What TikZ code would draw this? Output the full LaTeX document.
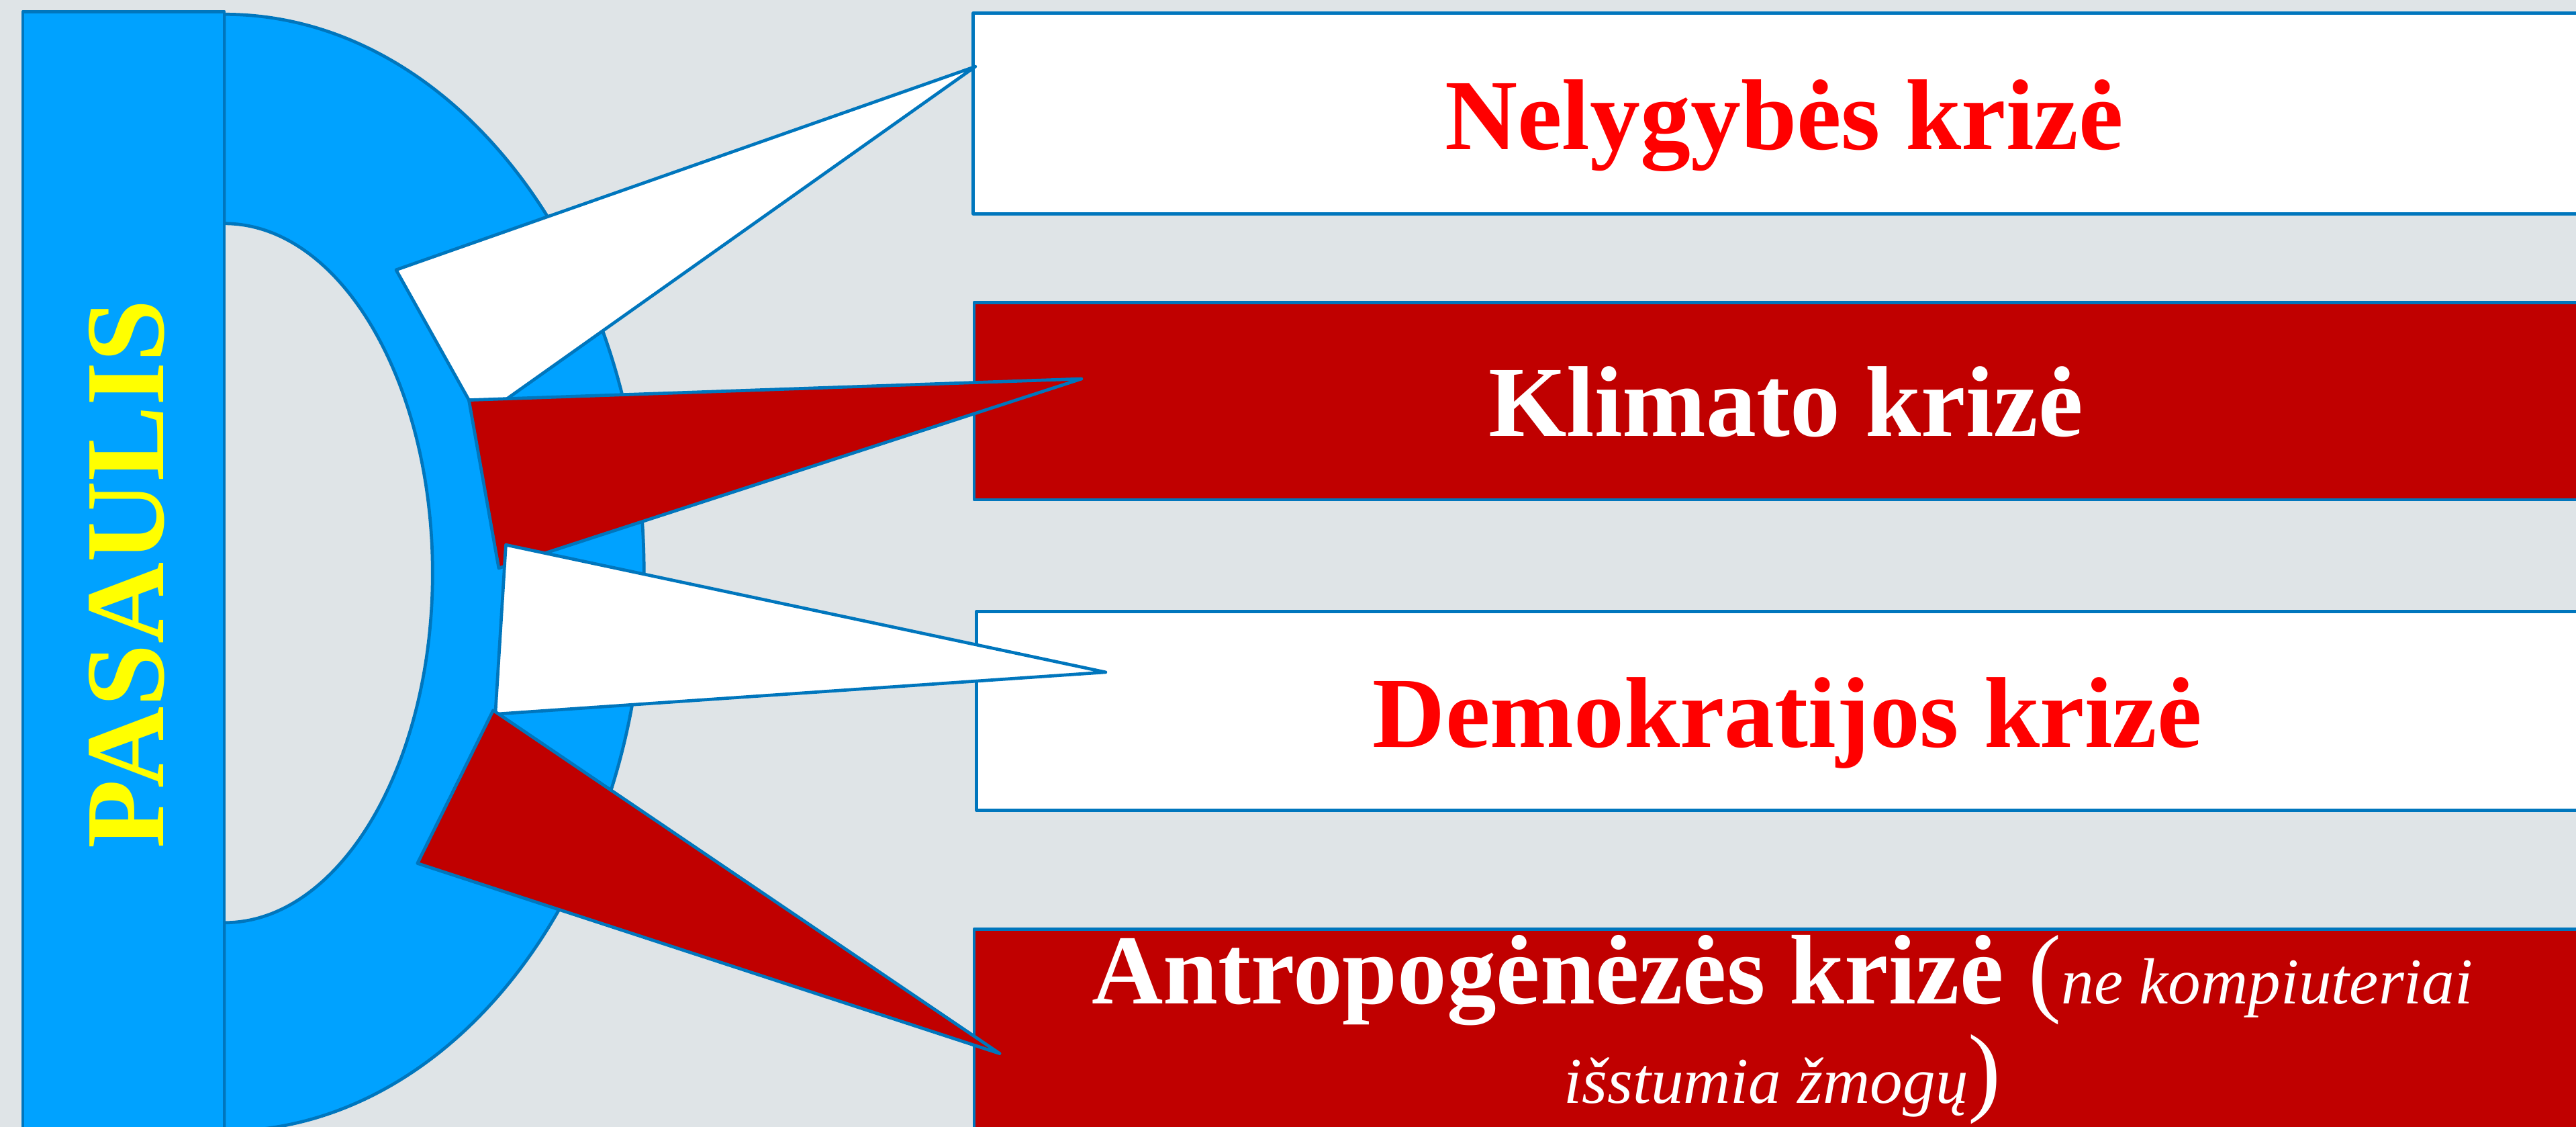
\documentclass[tikz,border=0pt]{standalone}
\usepackage{fontspec}
\setmainfont{Liberation Serif}
\definecolor{backgr}{RGB}{223,228,231}
\definecolor{skyblue}{RGB}{0,162,255}
\definecolor{edgeblue}{RGB}{0,118,189}
\definecolor{darkred}{RGB}{192,0,0}
\definecolor{brightred}{RGB}{255,0,0}
\definecolor{lemon}{RGB}{255,255,0}
\newcommand\remark{\fontsize{11.3}{17.3}\selectfont\mdseries\itshape}

\begin{document}
\begin{tikzpicture}[x=0.01cm,y=-0.01cm,line width=0.55pt,line join=round,
    panel/.style={draw=edgeblue,anchor=north west,minimum width=9.88cm,inner sep=0pt},
    tongue/.style={draw=edgeblue},
    head/.style={anchor=base,font=\fontsize{17.4}{17.3}\selectfont\bfseries}]
        \fill[backgr] (0,0) rectangle (1568,685.7);
        \useasboundingbox (0,0) rectangle (1568,685.7);
        \clip (0,0) rectangle (1568,685.7);
        \draw[edgeblue,fill=skyblue] (136.5,8.7) arc[start angle=-90,end angle=90,x radius=255.5,y radius=339.8]
            -- (136.5,561.4) arc[start angle=90,end angle=-90,x radius=126.8,y radius=212.7] -- cycle;
        \draw[edgeblue,fill=skyblue] (13.9,7.1) rectangle (136.5,720);
        \node[rotate=90,text=lemon,font=\fontsize{19.5}{20}\selectfont\bfseries] (world) at (77,349.3) {PASAULIS};
        \foreach \n/\x/\y/\h/\c in {1/591.5/7/1.22/white,2/592/183/1.20/darkred,3/593.5/371/1.21/white,4/592/564.3/1.22/darkred}
            \node[panel,fill=\c,minimum height=\h cm] (box\n) at (\x,\y) {};
        \node[head,text=brightred] (lab1) at (1086,91) {Nelygybės krizė};
        \node[head,text=white] (lab2) at (1087,265.6) {Klimato krizė};
        \node[head,text=brightred] (lab3) at (1088,454.5) {Demokratijos krizė};
        \node[head,text=white,align=center,font=\fontsize{17.1}{17.3}\selectfont\bfseries] (lab4) at (1085,671.4)
            {Antropogėnėzės krizė {\mdseries(}{\remark ne kompiuteriai}\\{\remark išstumia žmogų}{\mdseries)}};
        \coordinate (tip1) at (593.7,40.5);
        \coordinate (tip2) at (658.3,230.5);
        \coordinate (tip3) at (673,409);
        \coordinate (tip4) at (608.5,641);
        \draw[tongue,fill=white] (241.1,164.2) -- (tip1) -- (291.7,254.6) -- cycle;
        \draw[tongue,fill=darkred] (285.4,243.4) -- (tip2) -- (303.6,345.7) -- cycle;
        \draw[tongue,fill=white] (307.9,331.5) -- (tip3) -- (301.5,434.5) -- cycle;
        \draw[tongue,fill=darkred] (300.2,432.2) -- (tip4) -- (254.1,525.3) -- cycle;
    \end{tikzpicture}
\end{document}
